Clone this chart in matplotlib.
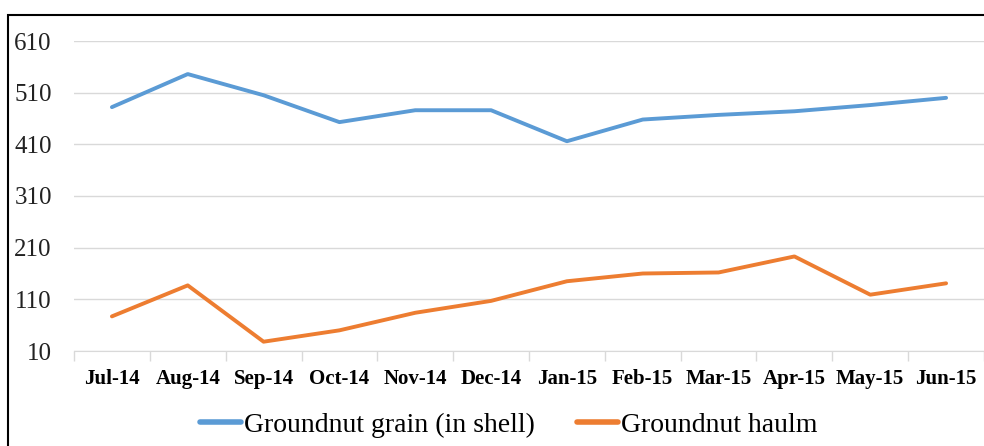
import matplotlib.pyplot as plt
import numpy as np
from matplotlib.patches import Rectangle

# ==============================================
# DATA
# ==============================================
months = ["Jul-14", "Aug-14", "Sep-14", "Oct-14", "Nov-14", "Dec-14",
          "Jan-15", "Feb-15", "Mar-15", "Apr-15", "May-15", "Jun-15"]
grain = [482, 546, 505, 453, 476, 476, 416, 458, 467, 474, 486, 500]
haulm = [77, 137, 28, 50, 84, 107, 145, 160, 162, 193, 119, 141]
yticks = [10, 110, 210, 310, 410, 510, 610]

plt.rcParams['font.family'] = ['Liberation Serif', 'DejaVu Serif']

fig = plt.figure(figsize=(9.84, 4.46), dpi=100)
ax = fig.add_axes([74 / 984, 1 - 351 / 446, 1 - 74 / 984, (351 - 41) / 446])

x = np.arange(len(months))
ax.plot(x, grain, color="#5B9BD5", lw=2.8, label="Groundnut grain (in shell)",
        solid_capstyle="round", solid_joinstyle="round")
ax.plot(x, haulm, color="#ED7D31", lw=2.8, label="Groundnut haulm",
        solid_capstyle="round", solid_joinstyle="round")

ax.set_xlim(-0.5, len(months) - 0.5)
ax.set_ylim(10, 610)
ax.set_yticks(yticks)
ax.tick_params(axis="y", length=0, labelsize=18, pad=16, labelcolor="#222222")
ax.grid(axis="y", color="#D9D9D9", lw=1)
ax.set_axisbelow(True)

ax.set_xticks(x)
ax.set_xticklabels(months, fontweight="bold", fontsize=15)
ax.tick_params(axis="x", which="major", length=0, pad=13)
ax.set_xticks(np.arange(-0.5, len(months), 1), minor=True)
ax.tick_params(axis="x", which="minor", length=7, color="#D9D9D9", width=1)

for s in ["top", "right", "left"]:
    ax.spines[s].set_visible(False)
ax.spines["bottom"].set_color("#D9D9D9")

leg = fig.legend(loc="center", bbox_to_anchor=(0.517, 1 - 425 / 446), ncol=2,
                 frameon=False, fontsize=20, handlelength=1.5, columnspacing=1.5,
                 handletextpad=0.1)
for h in leg.legend_handles:
    h.set_linewidth(4)

# outer frame
fig.patches.append(Rectangle((8 / 984, -0.1), 1.1, 1 - 15 / 446 + 0.1,
                             transform=fig.transFigure, fill=False,
                             edgecolor="black", lw=1.5))

fig.savefig("out.png", dpi=100)
